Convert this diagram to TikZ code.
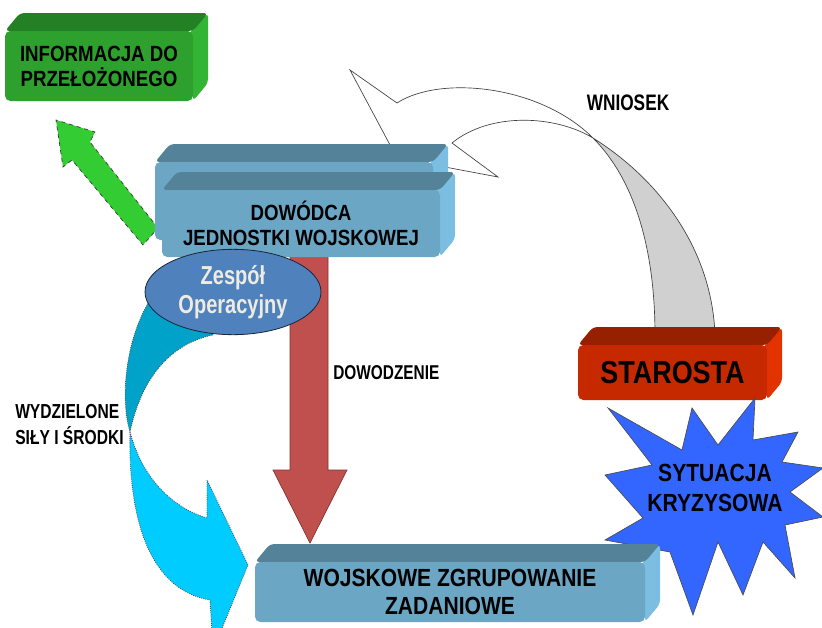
\documentclass[tikz,border=0pt]{standalone}
\usepackage{fontspec}
\setmainfont{Liberation Sans}
\newfontfamily\bxfont[FakeStretch=0.85]{Liberation Sans}
\newfontfamily\nrfont[FakeStretch=0.77]{Liberation Sans}
\usetikzlibrary{shapes.geometric}
\definecolor{grnF}{RGB}{46,160,46}
\definecolor{grnT}{RGB}{36,128,36}
\definecolor{grnS}{RGB}{52,180,52}
\definecolor{bluF}{RGB}{107,166,197}
\definecolor{bluT}{RGB}{84,130,152}
\definecolor{bluS}{RGB}{124,190,226}
\definecolor{redF}{RGB}{198,40,0}
\definecolor{redT}{RGB}{150,32,0}
\definecolor{redS}{RGB}{226,50,0}
\definecolor{starB}{RGB}{51,102,255}
\definecolor{ellB}{RGB}{79,129,189}
\definecolor{ellT}{RGB}{238,236,225}
\definecolor{arrR}{RGB}{192,80,77}
\definecolor{arrRd}{RGB}{130,50,48}
\definecolor{arrG}{RGB}{51,204,51}
\definecolor{cyD}{RGB}{0,162,201}
\definecolor{cyL}{RGB}{0,204,255}
\definecolor{gryF}{RGB}{208,208,208}
\newcommand\tdbox[8]{%
  \fill[#6S, rounded corners=3pt] (#4-3,#3) -- (#4+15,#3-18) -- (#4+15,#5-18) -- (#4,#5) -- cycle;
  \fill[#6T, rounded corners=3pt] (#2,#3) -- (#2+15,#3-18) -- (#4+15,#3-18) -- (#4,#3) -- cycle;
  \fill[#6F, rounded corners=4pt] (#2,#3) rectangle (#4,#5);
  \node[#7] (#1) at ({(#2+#4)/2},{(#3+#5)/2}) {#8};
}
\tikzset{
  txtG/.style={align=center, inner sep=0pt, font=\bxfont\bfseries\fontsize{16.5pt}{18.75pt}\selectfont},
  txtD/.style={align=center, inner sep=0pt, font=\bxfont\bfseries\fontsize{16.5pt}{18.75pt}\selectfont},
  txtW/.style={align=center, inner sep=0pt, font=\bxfont\bfseries\fontsize{18.6pt}{21pt}\selectfont},
  txtS/.style={align=center, inner sep=0pt, font=\bxfont\bfseries\fontsize{23.8pt}{26pt}\selectfont},
  txtK/.style={align=center, inner sep=0pt, font=\bxfont\bfseries\fontsize{18.6pt}{22.5pt}\selectfont},
  notxt/.style={inner sep=0pt},
  lbl/.style={inner sep=0pt, align=left, font=\nrfont\bfseries\fontsize{15.2pt}{19.5pt}\selectfont},
  greyline/.style={draw=black!75, line width=0.5pt},
  cyanline/.style={draw=black!70, densely dotted, line width=0.6pt},
}
\begin{document}
\begin{tikzpicture}[x=0.75pt,y=-0.75pt]
\useasboundingbox (0,0) rectangle (822,628);
\clip (0,0) rectangle (822,628);
% WNIOSEK arrow (white head part and grey tail)
\filldraw[greyline, fill=white] (593,138) .. controls (540,85) and (440,75) .. (397,103) -- (350,70) -- (397,158) -- (498,177) -- (452,143) .. controls (490,112) and (555,115) .. (593,138);
\filldraw[greyline, fill=gryF] (593,138) .. controls (635,180) and (655,250) .. (655,335) -- (715,335) .. controls (712,250) and (660,180) .. (593,138) -- cycle;
% green arrow
\filldraw[fill=arrG, draw=black!80, dashed, line width=0.5pt] (158,228) -- (90,142) -- (95,132) -- (56,120) -- (63,167) -- (72,160) -- (143,245) -- cycle;
% cyan curved arrow
\filldraw[cyanline, fill=cyD] (150,300) .. controls (125,340) and (120,400) .. (130,432) .. controls (140,385) and (165,345) .. (213,335) -- (213,320) -- cycle;
\filldraw[cyanline, fill=cyL] (130,432) .. controls (140,470) and (165,505) .. (207,518) -- (207,480) -- (248,565) -- (213,650) -- (210,600) .. controls (150,590) and (128,520) .. (130,432) -- cycle;
% red arrow
\filldraw[fill=arrR, draw=arrRd, line width=0.5pt] (290,250) -- (290,470) -- (273,470) -- (310,543) -- (347,470) -- (328,470) -- (328,250) -- cycle;
% DOWODCA boxes
\tdbox{dowback}{155}{162}{433}{240}{blu}{notxt}{}
\tdbox{dowodca}{162}{190}{440}{257}{blu}{txtD}{DOWÓDCA\\JEDNOSTKI WOJSKOWEJ}
% ellipse
\node[ellipse, fill=ellB, draw=black!70!ellB, line width=0.6pt, minimum width=132pt, minimum height=64pt, inner sep=0pt, text=ellT, align=center, font=\nrfont\bfseries\fontsize{19.5pt}{22pt}\selectfont] (zespol) at (233,292) {Zespół\\Operacyjny};
% green box
\tdbox{info}{5}{31}{193}{101}{grn}{txtG}{INFORMACJA DO\\PRZEŁOŻONEGO}
% STAROSTA
\tdbox{starosta}{578}{345}{767}{400}{red}{txtS}{STAROSTA}
% star
\filldraw[fill=starB, draw=black!70, line width=0.5pt]
  (608,408) -- (682,450) -- (692,408) -- (718,445) -- (755,398) -- (753,440) -- (798,432) -- (782,462) -- (823,468) -- (790,492) -- (823,517) -- (785,525) -- (795,578) -- (763,542) -- (743,595) -- (718,542) -- (693,615) -- (670,552) -- (605,540) -- (643,518) -- (605,475) -- (652,465) -- cycle;
\node[txtK] (kryzys) at (715,488) {SYTUACJA\\KRYZYSOWA};
% WZZ box
\tdbox{wzz}{255}{562}{645}{622}{blu}{txtW}{WOJSKOWE ZGRUPOWANIE\\ZADANIOWE}
% labels
\node[lbl, font=\nrfont\bfseries\fontsize{16.8pt}{19pt}\selectfont] (wniosek) at (628,103) {WNIOSEK};
\node[lbl, font=\nrfont\bfseries\fontsize{15pt}{19pt}\selectfont, anchor=west] (dowodz) at (333,373) {DOWODZENIE};
\node[lbl, anchor=west] (wydz) at (15,425) {WYDZIELONE\\SIŁY I ŚRODKI};
\end{tikzpicture}
\end{document}
